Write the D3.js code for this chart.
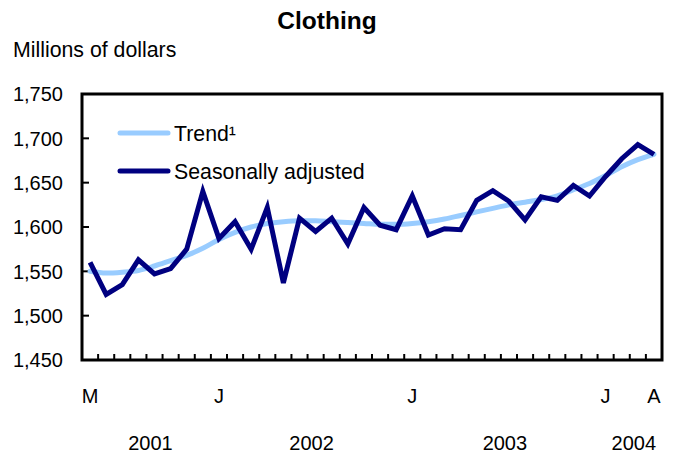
<!DOCTYPE html>
<html>
<head>
<meta charset="utf-8">
<script src="https://cdn.jsdelivr.net/npm/d3@7"></script>
<style>
  body { margin: 0; background: #fff; }
  svg text { font-family: "Liberation Sans", Arial, sans-serif; fill: #000; }
</style>
</head>
<body>
<div id="graf"></div>
<script>
// Data: May 2001 to April 2004, millions of dollars
const meses = ["M","J","J","A","S","O","N","D",
  "J","F","M","A","M","J","J","A","S","O","N","D",
  "J","F","M","A","M","J","J","A","S","O","N","D",
  "J","F","M","A"]
const ajustado = [1560, 1524, 1535, 1563, 1547, 1553, 1575, 1640,
  1587, 1606, 1575, 1622, 1537, 1610, 1595, 1610, 1581, 1622,
  1602, 1597, 1635, 1591, 1598, 1597, 1630, 1641, 1629, 1608,
  1634, 1630, 1647, 1635, 1657, 1677, 1693, 1682]
const tendencia = [1550, 1548, 1549, 1551, 1556, 1562, 1568, 1576,
  1586, 1594, 1600, 1604, 1606, 1607, 1607, 1606, 1605, 1604,
  1603, 1603, 1604, 1606, 1609, 1613, 1617, 1621, 1625, 1628,
  1631, 1635, 1642, 1649, 1658, 1668, 1676, 1682]
const etiquetasMes = [0, 8, 20, 32, 35]
const anios = [
  { anio: "2001", desde: 0, hasta: 7 },
  { anio: "2002", desde: 8, hasta: 19 },
  { anio: "2003", desde: 20, hasta: 31 },
  { anio: "2004", desde: 32, hasta: 35 },
]
const yTicks = [1450, 1500, 1550, 1600, 1650, 1700, 1750]

const anchoTotal = 676
const altoTotal = 457
const margins = { left: 82, top: 94, right: 14, bottom: 97 }
const ancho = anchoTotal - margins.left - margins.right
const alto = altoTotal - margins.top - margins.bottom

const svg = d3.select("#graf")
  .append("svg")
  .attr("width", anchoTotal)
  .attr("height", altoTotal)

const g = svg.append("g")
  .attr("transform", `translate(${margins.left}, ${margins.top})`)

// Escaladores
const x = d3.scaleBand().domain(d3.range(meses.length)).range([0, ancho])
const y = d3.scaleLinear().domain([1450, 1750]).range([alto, 0])
const cx = (i) => x(i) + x.bandwidth() / 2

// Titles
svg.append("text")
  .attr("x", 327).attr("y", 29)
  .attr("text-anchor", "middle")
  .attr("font-size", 24.5).attr("font-weight", "bold")
  .text("Clothing")

svg.append("text")
  .attr("x", 13).attr("y", 57)
  .attr("font-size", 21.3)
  .text("Millions of dollars")

// Y ticks and labels
g.selectAll(".ytick")
  .data(yTicks.slice(1, -1))
  .join("line")
  .attr("x1", 0).attr("x2", 7)
  .attr("y1", (d) => y(d)).attr("y2", (d) => y(d))
  .attr("stroke", "#000").attr("stroke-width", 2)

g.selectAll(".ylab")
  .data(yTicks)
  .join("text")
  .attr("x", -19)
  .attr("y", (d) => y(d))
  .attr("dy", "0.36em")
  .attr("text-anchor", "end")
  .attr("font-size", 20)
  .text((d) => d3.format(",")(d))

// X ticks at month boundaries
g.selectAll(".xtick")
  .data(d3.range(1, meses.length))
  .join("line")
  .attr("x1", (i) => x(i)).attr("x2", (i) => x(i))
  .attr("y1", alto).attr("y2", alto - 6)
  .attr("stroke", "#000").attr("stroke-width", 2)

g.selectAll(".mes")
  .data(etiquetasMes)
  .join("text")
  .attr("x", (i) => cx(i))
  .attr("y", alto + 43)
  .attr("text-anchor", "middle")
  .attr("font-size", 20)
  .text((i) => meses[i])

g.selectAll(".anio")
  .data(anios)
  .join("text")
  .attr("x", (d) => (x(d.desde) + x(d.hasta) + x.bandwidth()) / 2 + 4)
  .attr("y", alto + 90)
  .attr("text-anchor", "middle")
  .attr("font-size", 20)
  .text((d) => d.anio)

// Lines
const lineaTend = d3.line()
  .x((d, i) => cx(i))
  .y((d) => y(d))
  .curve(d3.curveMonotoneX)

const lineaAjus = d3.line()
  .x((d, i) => cx(i))
  .y((d) => y(d))

g.append("path")
  .attr("d", lineaTend(tendencia))
  .attr("fill", "none")
  .attr("stroke", "#99ccff")
  .attr("stroke-width", 5)
  .attr("stroke-linecap", "round")

g.append("path")
  .attr("d", lineaAjus(ajustado))
  .attr("fill", "none")
  .attr("stroke", "#000080")
  .attr("stroke-width", 5)
  .attr("stroke-linejoin", "miter")

// Frame
g.append("rect")
  .attr("x", 0).attr("y", 0)
  .attr("width", ancho).attr("height", alto)
  .attr("fill", "none")
  .attr("stroke", "#000").attr("stroke-width", 3)

// Legend
const leyenda = [
  { nombre: "Trend\u00b9", color: "#99ccff", y: 133 },
  { nombre: "Seasonally adjusted", color: "#000080", y: 171 },
]
const lg = svg.selectAll(".ley").data(leyenda).join("g")
lg.append("line")
  .attr("x1", 120).attr("x2", 168)
  .attr("y1", (d) => d.y).attr("y2", (d) => d.y)
  .attr("stroke", (d) => d.color)
  .attr("stroke-width", 5)
  .attr("stroke-linecap", "round")
lg.append("text")
  .attr("x", 174)
  .attr("y", (d) => d.y)
  .attr("dy", "0.36em")
  .attr("font-size", 21.3)
  .text((d) => d.nombre)
</script>
</body>
</html>
